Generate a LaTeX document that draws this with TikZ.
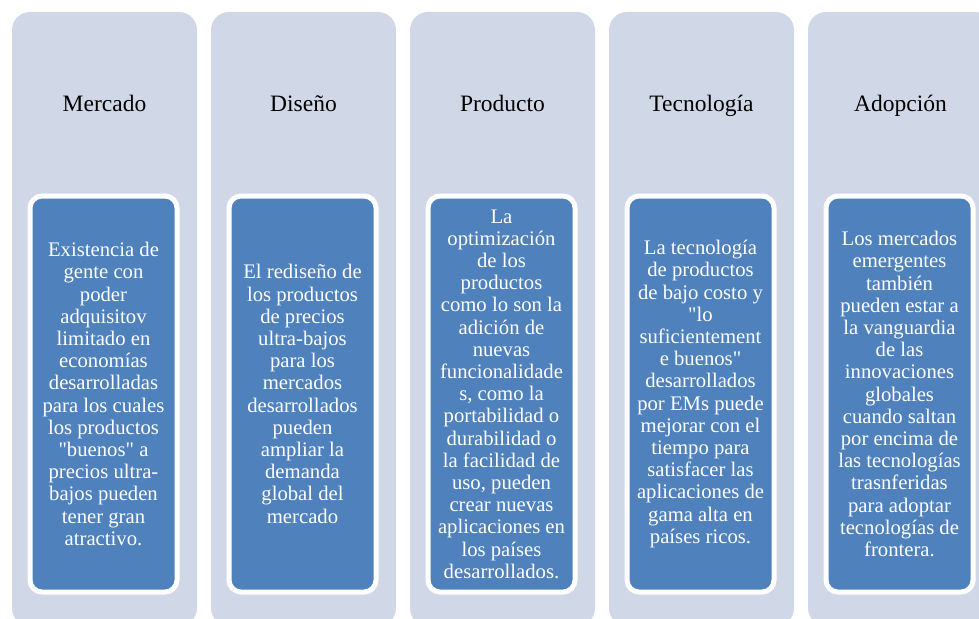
\documentclass[tikz,border=0pt]{standalone}
\usepackage{fontspec}
\setmainfont{Liberation Serif}[Ligatures=TeXOff]
\definecolor{outerfill}{HTML}{D0D8E8}
\definecolor{innerfill}{HTML}{4F81BD}
\tikzset{
  colbox/.style={fill=outerfill, rounded corners=18pt, minimum width=185pt, minimum height=614pt, inner sep=0pt, draw=none},
  coltitle/.style={font=\fontsize{23.5}{28}\selectfont, text=black, inner sep=0pt, anchor=base},
  textbox/.style={fill=innerfill, draw=white, line width=5pt, rounded corners=12pt, minimum width=147pt, minimum height=396pt, inner sep=0pt, text=white, align=center, font=\fontsize{20.7}{22.2}\selectfont},
}
\begin{document}
\begin{tikzpicture}[x=1pt,y=-1pt]
\useasboundingbox (0,0) rectangle (979,618);
\foreach \i/\nm in {0/a,1/b,2/c,3/d,4/e}{
  \node[colbox] (col\nm) at ({12+92.5+199*\i},319) {};
}
\node[coltitle] (t1) at (104.5,111) {Mercado};
\node[coltitle] (t2) at (303.5,111) {Diseño};
\node[coltitle] (t3) at (502.5,111) {Producto};
\node[coltitle] (t4) at (701.5,111) {Tecnología};
\node[coltitle] (t5) at (900.5,111) {Adopción};
\node[textbox] (b1) at (103.5,394) {Existencia de\\gente con\\poder\\adquisitov\\limitado en\\economías\\desarrolladas\\para los cuales\\los productos\\"buenos" a\\precios ultra-\\bajos pueden\\tener gran\\atractivo.};
\node[textbox] (b2) at (302.5,394) {El rediseño de\\los productos\\de precios\\ultra-bajos\\para los\\mercados\\desarrollados\\pueden\\ampliar la\\demanda\\global del\\mercado};
\node[textbox] (b3) at (501.5,394) {La\\optimización\\de los\\productos\\como lo son la\\adición de\\nuevas\\funcionalidade\\s, como la\\portabilidad o\\durabilidad o\\la facilidad de\\uso, pueden\\crear nuevas\\aplicaciones en\\los países\\desarrollados.};
\node[textbox] (b4) at (700.5,394) {La tecnología\\de productos\\de bajo costo y\\"lo\\suficientement\\e buenos"\\desarrollados\\por EMs puede\\mejorar con el\\tiempo para\\satisfacer las\\aplicaciones de\\gama alta en\\países ricos.};
\node[textbox] (b5) at (899.5,394) {Los mercados\\emergentes\\también\\pueden estar a\\la vanguardia\\de las\\innovaciones\\globales\\cuando saltan\\por encima de\\las tecnologías\\trasnferidas\\para adoptar\\tecnologías de\\frontera.};
\end{tikzpicture}
\end{document}
